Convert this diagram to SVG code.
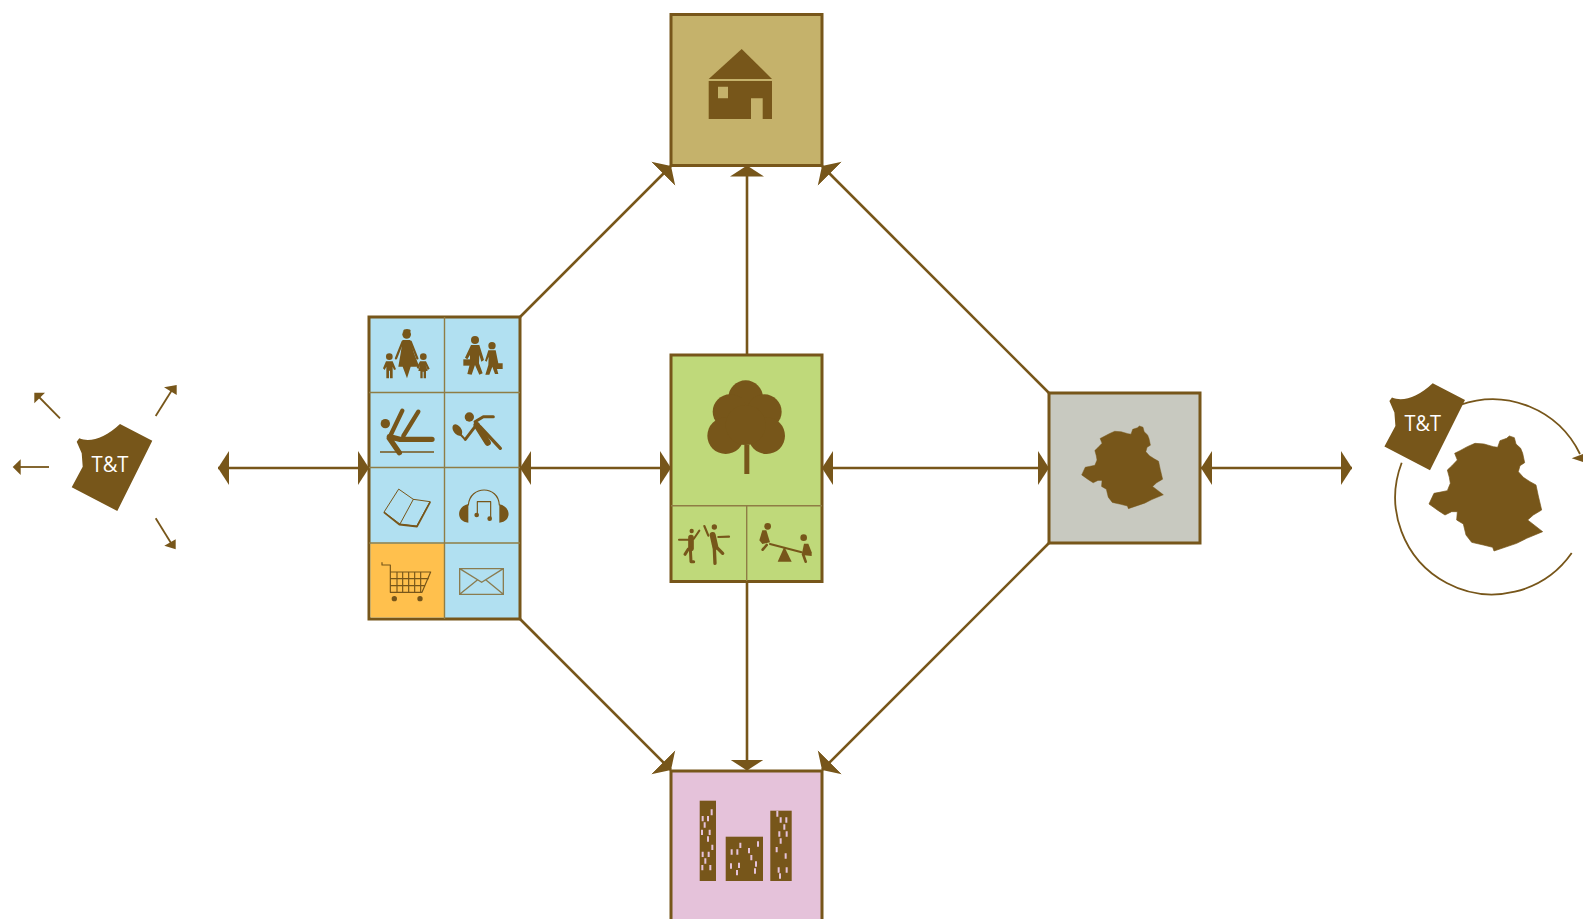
<svg xmlns="http://www.w3.org/2000/svg" xmlns:xlink="http://www.w3.org/1999/xlink" width="1583" height="919" viewBox="0 0 1583 919">
<style>
.box{stroke:#77561a;stroke-width:3}
.div{stroke:#8f7d45;stroke-width:1.4;fill:none}
.b{fill:#77561a}
.s{stroke:#77561a;fill:none;stroke-linecap:round;stroke-linejoin:round}
.con{stroke:#77561a;stroke-width:2.6;fill:none;marker-end:url(#ah)}
.dbl{marker-start:url(#ah)}
.thin{stroke:#77561a;stroke-width:1.8;fill:none}
.tt{font-family:"Open Sans","Noto Sans",sans-serif;font-size:22px;fill:#fff;text-anchor:middle}
</style>
<defs>
<marker id="ah" markerUnits="userSpaceOnUse" markerWidth="12" markerHeight="36" viewBox="0 -18 12 36" refX="11" refY="0" orient="auto-start-reverse"><path d="M0-17L11 0L0 17Z" fill="#77561a"/></marker>
<path id="tag" d="M120 424L152.300 440.700L117.300 511L71.700 487.300L82.700 466.700L81.700 453.300L76.700 441.700L79.300 438.300C90 443 105 438 120 424Z"/>
<path id="map" stroke="#77561a" stroke-width="2" stroke-linejoin="round" d="M207 402L222 370L238 367L262 362L271 340L268 322L262 300L275 288L292 270L284 250L300 242L322 230L345 220L372 222L400 230L413 232L420 212L440 205L448 198L463 203L468 222L482 235L488 250L494 278L480 287L475 305L490 322L510 335L528 345L535 378L545 420L520 435L503 450L548 485L500 505L470 520L402 543L398 532L370 525L335 517L318 495L310 462L290 450L292 425L275 425L255 435L235 422Z"/>
</defs>

<g id="connectors">
<line class="con dbl" x1="218" y1="468" x2="369" y2="468"/>
<line class="con dbl" x1="520" y1="468" x2="671" y2="468"/>
<line class="con dbl" x1="822" y1="468" x2="1049" y2="468"/>
<line class="con dbl" x1="1201" y1="468" x2="1352" y2="468"/>
<line class="con" x1="747" y1="355" x2="747" y2="165.500"/>
<line class="con" x1="747" y1="582" x2="747" y2="770.500"/>
<line class="con" x1="520" y1="317" x2="671" y2="166"/>
<line class="con" x1="1049" y1="393" x2="822" y2="166"/>
<line class="con" x1="520" y1="619" x2="671" y2="770"/>
<line class="con" x1="1049" y1="543" x2="822" y2="770"/>
</g>

<g id="node-home">
<rect class="box" x="671" y="14.500" width="151" height="151" fill="#c5b26b"/>
<path class="b" d="M741.700 49L772 79H708.700Z"/>
<path class="b" fill-rule="evenodd" d="M708.700 81H772V119H762.700V98.300H751V119H708.700ZM718 86.700V98.300H728V86.700Z"/>
</g>

<g id="node-services">
<rect class="box" x="369" y="317" width="151" height="302" fill="#b1e0f1"/>
<rect x="370.500" y="543.500" width="74" height="74" fill="#ffc04d"/>
<path class="div" d="M444.500 317V619M369 392.500H520M369 467.500H520M369 543H520"/>
<g transform="translate(360 310) scale(.33333)">
<circle class="b" cx="140" cy="73" r="13"/><ellipse class="b" cx="141" cy="62" rx="11" ry="5"/>
<path class="b" d="M128 90H150L162 130L178 170H152L141 205L128 170H115L122 130Z"/>
<path class="s" stroke-width="7" d="M128 95L108 145M152 95L172 145"/>
<circle class="b" cx="88" cy="140" r="10"/><path class="b" d="M78 154H98L108 178L102 180L98 170V205H90V182H87V205H79V170L74 180L69 175Z"/>
<circle class="b" cx="190" cy="140" r="10"/><path class="b" d="M180 154H198L209 176L203 180L197 165L203 183H198V205H191V185H188V205H181V183H175L180 165L175 178L170 172Z"/>
<circle class="b" cx="345" cy="90" r="12"/><path class="b" d="M333 105H358L372 150L364 155L358 135L357 160L368 190L358 194L345 165L335 194L322 192L330 160V135L322 148L315 143Z"/>
<path class="b" d="M310 148H332V167H310Z"/>
<circle class="b" cx="396" cy="107" r="11"/><path class="b" d="M385 121H407L415 160H428V177H411L415 192H405L397 170L388 194H376L385 165L386 140L380 155L375 152Z"/>
<circle class="b" cx="76" cy="341" r="14"/>
<path class="s" stroke-width="13" d="M92 375L127 302M130 378L175 305"/>
<path class="s" stroke-width="16" d="M88 380L120 388H216M88 385L118 428"/>
<path stroke="#77561a" stroke-width="5" d="M60 426H222"/>
<circle class="b" cx="328" cy="321" r="14"/>
<path class="s" stroke-width="9" d="M345 335L370 320H400M345 350L316 388"/>
<path class="s" stroke-width="19" d="M350 345L383 398"/>
<path class="s" stroke-width="10" d="M360 350L421 415"/>
<ellipse class="b" cx="292" cy="360" rx="12" ry="19" transform="rotate(-35 292 360)"/>
<path class="s" stroke-width="6" d="M300 372L315 388"/>
</g>
<g transform="translate(360 460) scale(.33333)">
<path class="s" stroke-width="3" d="M117 88L160 118L120 192L73 157ZM160 118L210 125L170 198L120 192"/>
<path class="s" stroke-width="5" d="M73 158L118 194L171 200L210 127"/>
<path class="s" stroke-width="3.500" d="M325 135C330 75 415 75 418 135M352 165V125H392V175"/>
<path class="b" d="M325 132C288 140 288 185 325 188ZM418 133C455 140 455 185 418 188Z"/>
<circle class="b" cx="350" cy="165" r="7"/><circle class="b" cx="389" cy="176" r="7"/>
<path class="s" stroke-width="3.500" d="M66 308V315H91V397H186L212 336H91M111 336V397M128 336V397M146 336V397M164 336V397M182 336V397M91 356H205M91 377H195"/>
<circle class="b" cx="103" cy="416" r="8"/><circle class="b" cx="180" cy="416" r="8"/>
<path fill="none" stroke="#8a7c50" stroke-width="4" d="M299 326H430V403H299ZM299 326L365 367L430 326M299 403L352 360M430 403L378 360"/>
</g>
</g>

<g id="node-green">
<rect class="box" x="671" y="355" width="151" height="226.500" fill="#bfd97a"/>
<path class="div" d="M671 505.700H822M746.700 505.700V581"/>
<g transform="translate(655 345) scale(.33333)">
<circle class="b" cx="272" cy="158" r="52"/><circle class="b" cx="225" cy="200" r="52"/><circle class="b" cx="328" cy="200" r="52"/><circle class="b" cx="212" cy="272" r="55"/><circle class="b" cx="335" cy="272" r="55"/><circle class="b" cx="272" cy="240" r="60"/>
<rect class="b" x="268" y="300" width="15" height="87"/>
<circle class="b" cx="110" cy="558" r="6.500"/>
<path class="s" stroke-width="6" d="M72 584L102 584M116 582L133 557"/>
<path class="s" stroke-width="17" d="M108 578V610"/>
<path class="s" stroke-width="9" d="M106 610L108 650H116M100 612L90 628"/>
<circle class="b" cx="178" cy="546" r="8"/>
<path class="s" stroke-width="6.500" d="M148 543L160 572M190 576L222 575"/>
<path class="s" stroke-width="18" d="M173 570L181 606"/>
<path class="s" stroke-width="10" d="M178 610L180 655M188 610L203 625"/>
<circle class="b" cx="338" cy="544" r="10"/>
<path class="b" d="M322 556H334L345 592L322 597L313 586Z"/>
<path class="s" stroke-width="8" d="M335 600L323 614M445 630L452 650"/>
<path class="s" stroke-width="6" d="M345 597L440 622"/>
<path class="b" d="M388 605L410 650H368Z"/>
<circle class="b" cx="446" cy="578" r="10"/>
<path class="b" d="M447 596H460L470 622V633L440 630Z"/>
</g>
</g>

<g id="node-region">
<rect class="box" x="1049" y="393" width="151" height="150" fill="#c8c9c0"/>
<use xlink:href="#map" class="b" transform="translate(1032.100 378.600) scale(.2395)"/>
</g>

<g id="node-city">
<path class="box" d="M671 919V771H822V919" fill="#e5c2da"/>
<rect class="b" x="699.700" y="800.700" width="16.300" height="80.300"/>
<rect class="b" x="725.700" y="836.700" width="37.300" height="44.300"/>
<rect class="b" x="770.300" y="810.700" width="21.400" height="70.300"/>
<g transform="translate(640 740) scale(.33333)">
<path fill="none" stroke="#e5c2da" stroke-width="6" d="M215 208v18M188 228v16M204 228v16M194 247v16M186 269v16M209 269v16M204 289v16M217 314v16M188 335v16M206 335v16M196 355v16M187 375v16M211 375v16M354 304v16M301 308v16M275 328v16M292 328v16M327 324v16M334 345v16M348 364v16M273 370v16M297 368v16M291 390v16M345 385v16M412 212v18M422 232v16M439 232v16M433 253v16M418 274v16M440 274v16M422 295v16M410 321v16M437 340v16M416 382v16M440 382v16M420 400v16"/>
</g>
</g>

<g id="node-tt-out">
<use xlink:href="#tag" class="b"/>
<text class="tt" x="110" y="471.500" textLength="37" lengthAdjust="spacingAndGlyphs">T&amp;T</text>
<g id="out-arrows">
<line class="thin" x1="60" y1="418.300" x2="38" y2="396"/><path class="b" d="M34.300 392.700H45L34.300 403.300Z"/>
<line class="thin" x1="155.700" y1="416" x2="172" y2="390"/><path class="b" d="M176.700 385L164 387.300L176.700 395Z"/>
<line class="thin" x1="49" y1="467" x2="18" y2="467"/><path class="b" d="M12.700 467L20.700 459.300V475Z"/>
<line class="thin" x1="155.700" y1="518.300" x2="171" y2="543"/><path class="b" d="M175.700 549.300V539.300L164.300 545.700Z"/>
</g>
</g>

<g id="node-tt-in">
<path class="thin" d="M1460 405A97 97 0 0 1 1580 454M1571.700 553.100A97 97 0 0 1 1401.700 462.700"/>
<path class="b" d="M1571.700 458.300L1583 454V462Z"/>
<use xlink:href="#tag" class="b" transform="translate(1312.700 -40.700)"/>
<text class="tt" x="1422.700" y="431" textLength="36.500" lengthAdjust="spacingAndGlyphs">T&amp;T</text>
<use xlink:href="#map" class="b" transform="translate(1360 370) scale(.33333)"/>
</g>
</svg>
